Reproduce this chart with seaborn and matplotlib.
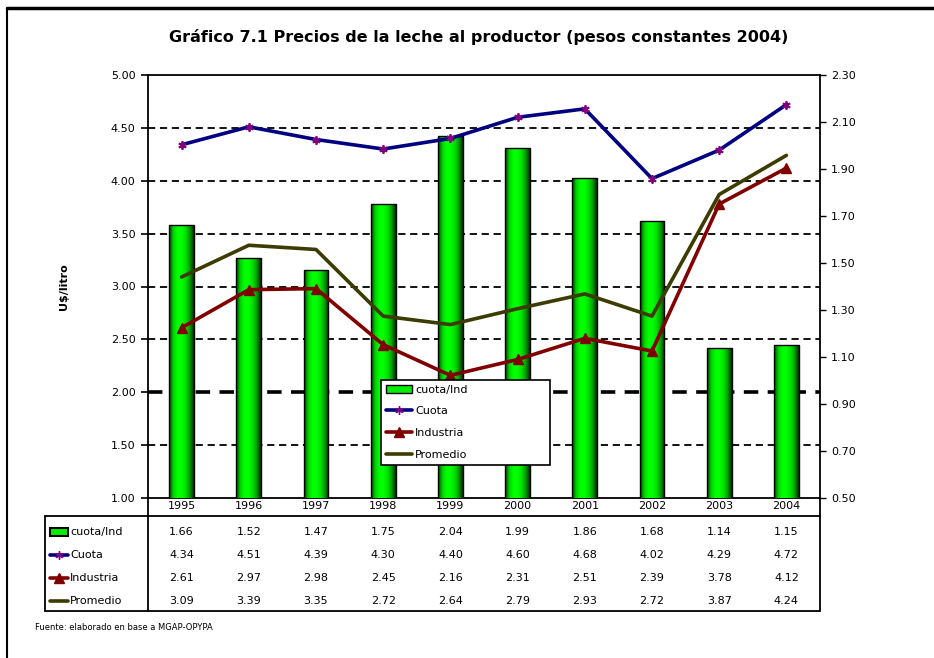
import numpy as np
import pandas as pd
import seaborn as sns
import matplotlib.pyplot as plt
from matplotlib.colors import LinearSegmentedColormap
from matplotlib.lines import Line2D
from matplotlib.patches import Rectangle
import matplotlib.transforms as mtransforms

# data
years = ["1995", "1996", "1997", "1998", "1999", "2000", "2001", "2002", "2003", "2004"]
cuota_ind = [1.66, 1.52, 1.47, 1.75, 2.04, 1.99, 1.86, 1.68, 1.14, 1.15]
cuota = [4.34, 4.51, 4.39, 4.30, 4.40, 4.60, 4.68, 4.02, 4.29, 4.72]
industria = [2.61, 2.97, 2.98, 2.45, 2.16, 2.31, 2.51, 2.39, 3.78, 4.12]
promedio = [3.09, 3.39, 3.35, 2.72, 2.64, 2.79, 2.93, 2.72, 3.87, 4.24]

left_ticks = [1.0, 1.5, 2.0, 2.5, 3.0, 3.5, 4.0, 4.5, 5.0]
right_ticks = [0.5, 0.7, 0.9, 1.1, 1.3, 1.5, 1.7, 1.9, 2.1, 2.3]

df = pd.DataFrame({"year": years, "cuota_ind": cuota_ind, "Cuota": cuota,
                   "Industria": industria, "Promedio": promedio})

sns.set_theme(style="white", rc={"text.color": "black", "xtick.color": "black",
                                 "ytick.color": "black", "axes.labelcolor": "black"})
plt.rcParams["font.family"] = ["DejaVu Sans"]

W, H = 934, 658
fig = plt.figure(figsize=(W / 100, H / 100), dpi=100)
rect = [148 / W, 1 - 498 / H, 672 / W, 423 / H]

ax = fig.add_axes(rect)                                   # left scale + grid
axb = fig.add_axes(rect, sharex=ax)                       # bars, right scale
axl = fig.add_axes(rect, sharex=ax, sharey=ax)            # lines + table
for a in (axb, axl):
    a.patch.set_visible(False)

navy = "#000080"
purple = "#800080"
dred = "#800000"
olive = "#3c3c00"
green = "#00ee00"

# grid (behind the bars)
for t in left_ticks[1:-1]:
    lw = 2.6 if t == 2.0 else 1.3
    ax.axhline(t, color="black", lw=lw, dashes=(4, 2.6), zorder=0)
ax.set_ylim(1.0, 5.0)
ax.set_yticks(left_ticks)
ax.set_yticklabels([f"{v:.2f}" for v in left_ticks], fontsize=8)
ax.tick_params(axis="y", left=True, length=5, width=1.2, pad=4)
ax.tick_params(axis="x", bottom=False, labelbottom=False)
ax.set_ylabel("U$/litro", fontsize=8, fontweight="bold", labelpad=30)

# bars (right scale) with a green gradient
sns.barplot(data=df, x="year", y="cuota_ind", ax=axb, width=0.37,
            color=green, edgecolor="black", linewidth=1.0)
axb.set_ylim(0.5, 2.3)
ybot_b = axb.get_ylim()[0]
grad_cmap = LinearSegmentedColormap.from_list(
    "g", ["#004000", "#00d000", "#00ff00", "#00ff00", "#00e000", "#00a000", "#003000"])
grad = np.linspace(0, 1, 64).reshape(1, -1)
for p in list(axb.patches):
    x0 = p.get_x()
    im = axb.imshow(grad, cmap=grad_cmap, aspect="auto", zorder=2,
                    extent=[x0, x0 + p.get_width(), ybot_b, p.get_y() + p.get_height()])
    im.set_clip_path(p)
    p.set_facecolor("none")
    p.set_zorder(3)
axb.set_ylim(0.5, 2.3)
axb.yaxis.tick_right()
axb.set_yticks(right_ticks)
axb.set_yticklabels([f"{v:.2f}" for v in right_ticks], fontsize=8)
axb.tick_params(axis="y", right=True, left=False, length=4, width=1.0, pad=4)
axb.tick_params(axis="x", bottom=False, labelbottom=False)
axb.set_ylabel("")
axb.set_xlabel("")
for s in axb.spines.values():
    s.set_visible(False)

# lines (left scale)
sns.pointplot(data=df, x="year", y="Cuota", ax=axl, color=navy, markers=(6, 2, 0),
              linewidth=2.6, markersize=6, markeredgewidth=1.3,
              markeredgecolor=purple, markerfacecolor=purple, errorbar=None)
sns.pointplot(data=df, x="year", y="Industria", ax=axl, color=dred, markers="^",
              linewidth=2.6, markersize=7, markeredgewidth=1.0,
              markeredgecolor=dred, markerfacecolor=dred, errorbar=None)
sns.pointplot(data=df, x="year", y="Promedio", ax=axl, color=olive, markers="",
              linewidth=2.6, errorbar=None)
axl.set_ylim(1.0, 5.0)
axl.set_xlim(-0.5, len(years) - 0.5)
axl.tick_params(axis="y", left=False, right=False, labelleft=False)
axl.tick_params(axis="x", bottom=False, length=0, labelbottom=True, labelsize=8, pad=2)
axl.set_xlabel("")
axl.set_ylabel("")
for s in axl.spines.values():
    s.set_visible(False)
for s in ax.spines.values():
    s.set_color("black")
    s.set_linewidth(1.3)

# legend
handles = [Rectangle((0, 0), 1, 1, facecolor=green, edgecolor="black", lw=1),
           Line2D([], [], color=navy, lw=2.6, marker=(6, 2, 0), ms=6, mec=purple, mfc=purple),
           Line2D([], [], color=dred, lw=2.6, marker="^", ms=7, mec=dred, mfc=dred),
           Line2D([], [], color=olive, lw=2.6)]
leg = axl.legend(handles, ["cuota/Ind", "Cuota", "Industria", "Promedio"],
                 loc="lower left", bbox_to_anchor=(0.339, 0.066, 0.268, 0.204),
                 mode="expand", fontsize=8, frameon=True, fancybox=False, framealpha=1,
                 edgecolor="black", handlelength=2.3, labelspacing=1.05,
                 borderpad=0.45, handletextpad=0.3)
leg.get_frame().set_linewidth(1.2)
leg.set_zorder(10)

# data table under the axes
tr = mtransforms.blended_transform_factory(axl.transData, axl.transAxes)
xl, xr = (45 - 148) / 672, 1.0
ytop, ybot = (498 - 516) / 423, (498 - 611) / 423
line_kw = dict(color="black", lw=1.3, transform=axl.transAxes, clip_on=False)
axl.plot([xl, xr], [ytop, ytop], **line_kw)
axl.plot([xl, xr], [ybot, ybot], **line_kw)
axl.plot([xl, xl], [ytop, ybot], **line_kw)
axl.plot([0, 0], [0, ybot], **line_kw)
axl.plot([1, 1], [0, ybot], **line_kw)

row_y = [(498 - py) / 423 for py in (532, 555, 578, 601)]
row_vals = [cuota_ind, cuota, industria, promedio]
row_names = ["cuota/Ind", "Cuota", "Industria", "Promedio"]
kx0, kx1 = (50 - 148) / 672, (68 - 148) / 672
for ry, vals, name in zip(row_y, row_vals, row_names):
    for i, v in enumerate(vals):
        axl.text(i, ry, f"{v:.2f}", transform=tr, ha="center", va="center", fontsize=8)
    axl.text((70 - 148) / 672, ry, name, transform=axl.transAxes, ha="left",
             va="center", fontsize=8)
# legend keys in the table
axl.add_patch(Rectangle((kx0, row_y[0] - 0.009), kx1 - kx0, 0.018, transform=axl.transAxes,
                        facecolor=green, edgecolor="black", lw=1.5, clip_on=False))
axl.plot([kx0, kx1], [row_y[1]] * 2, color=navy, lw=2.6, transform=axl.transAxes, clip_on=False)
axl.plot([(kx0 + kx1) / 2], [row_y[1]], marker=(6, 2, 0), ms=6, color=purple,
         transform=axl.transAxes, clip_on=False)
axl.plot([kx0, kx1], [row_y[2]] * 2, color=dred, lw=2.6, transform=axl.transAxes, clip_on=False)
axl.plot([(kx0 + kx1) / 2], [row_y[2]], marker="^", ms=7, color=dred,
         transform=axl.transAxes, clip_on=False)
axl.plot([kx0, kx1], [row_y[3]] * 2, color=olive, lw=2.6, transform=axl.transAxes, clip_on=False)

# title and source
fig.text(479 / W, 1 - 37 / H, "Gráfico 7.1 Precios de la leche al productor (pesos constantes 2004)",
         ha="center", va="center", fontsize=11.5, fontweight="bold")
fig.text(35 / W, 1 - 628 / H, "Fuente: elaborado en base a MGAP-OPYPA",
         ha="left", va="center", fontsize=6)

# outer frame (top and left edges)
fig.add_artist(Line2D([7 / W, 1.0], [1 - 8 / H, 1 - 8 / H], color="black", lw=2.5,
                      transform=fig.transFigure))
fig.add_artist(Line2D([7 / W, 7 / W], [1 - 8 / H, 0.0], color="black", lw=1.5,
                      transform=fig.transFigure))

fig.savefig("out.png", dpi=100)
